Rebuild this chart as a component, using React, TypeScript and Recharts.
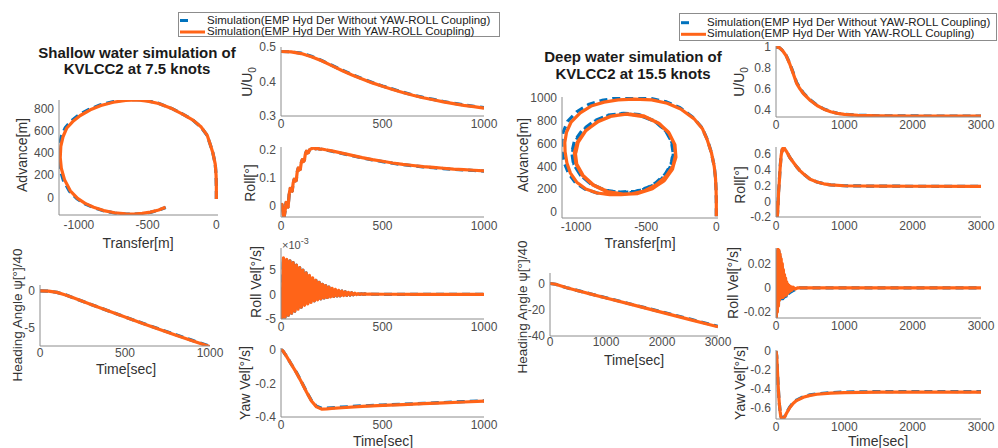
import React from 'react';
import { LineChart, Line, XAxis, YAxis } from 'recharts';

const BLUE = '#0072BD';
const ORANGE = '#FF6418';
const FONT = '"Liberation Sans", Arial, Helvetica, sans-serif';

type Pt = [number, number];

// ---------- Legend / titles ----------
const legendLabels = [
  'Simulation(EMP Hyd Der Without YAW-ROLL Coupling)',
  'Simulation(EMP Hyd Der With YAW-ROLL Coupling)',
];
const titleShallow = ['Shallow water simulation of', 'KVLCC2 at 7.5 knots'];
const titleDeep = ['Deep water simulation of', 'KVLCC2 at 15.5 knots'];

// ---------- Tick values ----------
const ticksTrajSX = [-1000, -500, 0];
const ticksTrajSY = [0, 200, 400, 600, 800];
const ticksTrajDX = [-1000, -500, 0];
const ticksTrajDY = [0, 200, 400, 600, 800, 1000];
const ticksTimeS = [0, 500, 1000];
const ticksTimeD = [0, 1000, 2000, 3000];
const ticksUS = [0.3, 0.4, 0.5];
const ticksRollS = [0, 0.1, 0.2];
const ticksRollVelS = [-5, 0, 5];
const ticksYawS = [-0.4, -0.2, 0];
const ticksHeadS = [-5, 0];
const ticksUD = [0.4, 0.6, 0.8, 1];
const ticksRollD = [-0.2, 0, 0.2, 0.4, 0.6];
const ticksRollVelD = [-0.02, 0, 0.02];
const ticksYawD = [-0.6, -0.4, -0.2, 0];
const ticksHeadD = [-40, -20, 0];

// ---------- Shallow water (7.5 kn) ----------
const trajShallowCoupled: Pt[] = [
  [0, -15], [0, 100], [-2, 200], [-8, 300], [-25, 400], [-45, 480], [-66, 560], [-110, 635], [-170, 698],
  [-236, 746], [-320, 800], [-420, 848], [-500, 870], [-577, 880], [-660, 877], [-750, 860], [-840, 830],
  [-917, 791], [-990, 740], [-1045, 685], [-1088, 627], [-1115, 550], [-1132, 460], [-1136, 358],
  [-1128, 260], [-1105, 160], [-1063, 59], [-1010, -10], [-955, -55], [-893, -90], [-820, -120],
  [-740, -140], [-660, -150], [-600, -151], [-540, -146], [-480, -134], [-420, -115], [-370, -90],
];
const trajShallowPlain: Pt[] = [
  [0, -15], [0, 100], [-2, 200], [-8, 300], [-25, 400], [-45, 480], [-67, 560], [-112, 636], [-172, 700],
  [-238, 748], [-322, 802], [-422, 851], [-502, 873], [-580, 884], [-664, 881], [-755, 864], [-848, 834],
  [-927, 795], [-1002, 744], [-1058, 688], [-1100, 628], [-1128, 550], [-1144, 460], [-1147, 358],
  [-1139, 258], [-1114, 157], [-1070, 57], [-1015, -12], [-958, -58], [-895, -92], [-822, -122],
  [-742, -142], [-662, -152], [-602, -153], [-540, -148], [-480, -136], [-420, -116], [-368, -92],
];
const uShallowCoupled: Pt[] = [
  [0, 0.487], [50, 0.486], [100, 0.481], [150, 0.472], [200, 0.46], [250, 0.446], [300, 0.432],
  [350, 0.419], [400, 0.407], [450, 0.396], [500, 0.386], [550, 0.377], [600, 0.368], [650, 0.36],
  [700, 0.353], [750, 0.347], [800, 0.341], [850, 0.336], [900, 0.331], [950, 0.327], [1000, 0.323],
];
const uShallowPlain: Pt[] = [
  [0, 0.487], [50, 0.486], [100, 0.482], [150, 0.473], [200, 0.461], [250, 0.447], [300, 0.433],
  [350, 0.42], [400, 0.408], [450, 0.397], [500, 0.387], [550, 0.378], [600, 0.369], [650, 0.361],
  [700, 0.354], [750, 0.348], [800, 0.342], [850, 0.337], [900, 0.332], [950, 0.328], [1000, 0.324],
];
const rollShallowCoupled: Pt[] = [
  [0, 0], [5, 0.005], [10, -0.03], [15, -0.042], [20, -0.02], [25, 0.012], [30, 0.005], [35, -0.005],
  [40, 0.04], [45, 0.062], [50, 0.055], [55, 0.052], [60, 0.082], [65, 0.095], [70, 0.088], [75, 0.09],
  [80, 0.122], [85, 0.135], [90, 0.128], [95, 0.13], [100, 0.155], [105, 0.165], [110, 0.158], [115, 0.162],
  [120, 0.185], [125, 0.195], [130, 0.188], [135, 0.19], [140, 0.2], [150, 0.204], [160, 0.207], [170, 0.203],
  [180, 0.206], [190, 0.202], [200, 0.203], [220, 0.2], [250, 0.196], [300, 0.188], [350, 0.18], [400, 0.172],
  [450, 0.165], [500, 0.159], [550, 0.153], [600, 0.148], [650, 0.144], [700, 0.14], [750, 0.137],
  [800, 0.134], [850, 0.131], [900, 0.129], [950, 0.127], [1000, 0.125],
];
const rollShallowPlain: Pt[] = [
  [0, 0], [5, 0.004], [10, -0.029], [15, -0.041], [20, -0.019], [25, 0.011], [30, 0.006], [35, -0.004],
  [40, 0.039], [45, 0.061], [50, 0.056], [55, 0.053], [60, 0.081], [65, 0.094], [70, 0.089], [75, 0.091],
  [80, 0.121], [85, 0.134], [90, 0.129], [95, 0.131], [100, 0.154], [105, 0.164], [110, 0.159], [115, 0.163],
  [120, 0.184], [125, 0.194], [130, 0.189], [135, 0.191], [140, 0.199], [150, 0.203], [160, 0.206], [170, 0.204],
  [180, 0.205], [190, 0.203], [200, 0.202], [220, 0.199], [250, 0.195], [300, 0.187], [350, 0.179], [400, 0.171],
  [450, 0.164], [500, 0.158], [550, 0.152], [600, 0.147], [650, 0.143], [700, 0.139], [750, 0.136],
  [800, 0.133], [850, 0.13], [900, 0.128], [950, 0.126], [1000, 0.124],
];
// roll velocity in units of 1e-3 deg/s
const rollVelShallow: Pt[] = [
  [0, 0], [4, -5.4], [12, 7.5], [20, -4.6], [28, 7.2], [36, -4.2], [44, 6.9], [52, -3.8], [60, 6.5],
  [68, -3.4], [76, 6.0], [84, -3.0], [92, 5.5], [100, -2.6], [108, 5.0], [116, -2.2], [124, 4.4],
  [132, -1.9], [140, 3.9], [148, -1.6], [156, 3.4], [164, -1.3], [172, 2.9], [180, -1.1], [188, 2.5],
  [196, -0.9], [204, 2.1], [212, -0.7], [220, 1.8], [228, -0.6], [236, 1.5], [244, -0.5], [252, 1.25],
  [260, -0.4], [268, 1.05], [276, -0.3], [284, 0.85], [292, -0.25], [300, 0.7], [308, -0.2], [316, 0.55],
  [324, -0.15], [332, 0.45], [340, -0.1], [348, 0.35], [356, -0.05], [364, 0.28], [372, 0], [380, 0.2],
  [388, 0.02], [396, 0.15], [404, 0.04], [412, 0.12], [430, 0.06], [500, 0.05], [700, 0.03], [1000, 0.02],
];
const yawShallowCoupled: Pt[] = [
  [0, 0], [10, -0.008], [25, -0.035], [50, -0.085], [75, -0.135], [100, -0.19], [125, -0.25], [150, -0.305],
  [175, -0.34], [200, -0.353], [225, -0.352], [250, -0.349], [300, -0.345], [400, -0.337], [500, -0.331],
  [600, -0.326], [700, -0.321], [800, -0.316], [900, -0.311], [1000, -0.306],
];
const yawShallowPlain: Pt[] = [
  [0, 0], [10, -0.008], [25, -0.035], [50, -0.085], [75, -0.133], [100, -0.188], [125, -0.248], [150, -0.302],
  [175, -0.336], [200, -0.348], [225, -0.347], [250, -0.345], [300, -0.341], [400, -0.334], [500, -0.329],
  [600, -0.324], [700, -0.319], [800, -0.314], [900, -0.309], [1000, -0.304],
];
const headShallowCoupled: Pt[] = [
  [0, 0], [50, -0.03], [100, -0.2], [150, -0.55], [200, -0.98], [250, -1.42], [300, -1.86], [400, -2.72],
  [500, -3.57], [600, -4.4], [700, -5.22], [800, -6.03], [900, -6.82], [1000, -7.6],
];
const headShallowPlain: Pt[] = [
  [0, 0], [50, -0.03], [100, -0.2], [150, -0.54], [200, -0.97], [250, -1.41], [300, -1.84], [400, -2.7],
  [500, -3.54], [600, -4.37], [700, -5.18], [800, -5.98], [900, -6.77], [1000, -7.55],
];

// ---------- Deep water (15.5 kn) ----------
const trajDeepCoupled: Pt[] = [
  [0, -40], [0, 100], [-2, 200], [-6, 300], [-15, 400], [-35, 520], [-64, 630], [-100, 733], [-160, 820],
  [-254, 905], [-350, 955], [-460, 985], [-586, 992], [-700, 985], [-800, 965], [-893, 930], [-970, 870],
  [-1035, 790], [-1068, 700], [-1080, 610], [-1078, 528], [-1065, 430], [-1040, 340], [-995, 260],
  [-930, 200], [-850, 165], [-760, 150], [-680, 150], [-600, 158], [-510, 185], [-430, 235], [-360, 310],
  [-310, 400], [-290, 500], [-300, 600], [-340, 700], [-410, 780], [-520, 845], [-633, 862], [-740, 845],
  [-840, 795], [-930, 715], [-990, 615], [-1012, 520], [-1000, 420], [-955, 320], [-880, 235], [-780, 175],
  [-670, 152], [-560, 160], [-460, 200], [-375, 270], [-315, 370], [-288, 480], [-295, 590], [-335, 690],
  [-405, 775], [-510, 835], [-640, 858], [-750, 842], [-845, 795], [-930, 715], [-985, 615], [-1005, 520],
  [-995, 420], [-950, 320], [-875, 235], [-775, 178], [-665, 155], [-555, 163], [-455, 203], [-370, 275],
  [-312, 375], [-290, 485], [-298, 595], [-340, 695], [-410, 778], [-515, 838], [-645, 858], [-755, 840],
  [-850, 790], [-932, 710], [-985, 610], [-1002, 515],
];
const trajDeepPlain: Pt[] = [
  [0, -40], [0, 100], [-2, 200], [-6, 300], [-15, 400], [-35, 520], [-64, 635], [-102, 740], [-165, 830],
  [-258, 915], [-355, 967], [-465, 997], [-592, 1008], [-710, 1002], [-815, 980], [-912, 943], [-995, 880],
  [-1060, 795], [-1092, 700], [-1102, 610], [-1098, 520], [-1082, 425], [-1052, 335], [-1003, 255],
  [-935, 198], [-850, 165], [-760, 160], [-680, 162], [-600, 170], [-510, 200], [-430, 255], [-365, 330],
  [-322, 420], [-308, 520], [-320, 620], [-365, 720], [-440, 800], [-550, 855], [-660, 867], [-770, 850],
  [-870, 800], [-955, 720], [-1012, 620], [-1030, 520], [-1018, 420], [-970, 325], [-895, 245], [-795, 190],
  [-685, 172], [-575, 180], [-475, 220], [-390, 290], [-330, 390], [-306, 500], [-315, 610], [-360, 710],
  [-430, 790], [-540, 848], [-660, 864], [-770, 847], [-868, 797], [-952, 717], [-1008, 617], [-1027, 517],
  [-1015, 417], [-968, 322], [-892, 242], [-792, 188], [-682, 170], [-572, 178], [-472, 218], [-388, 290],
  [-330, 390], [-307, 500], [-316, 610], [-360, 710], [-432, 790], [-542, 848], [-662, 864],
];
const uDeepCoupled: Pt[] = [
  [0, 1.0], [25, 0.999], [50, 0.993], [75, 0.98], [100, 0.962], [150, 0.915], [200, 0.84], [250, 0.75],
  [300, 0.655], [350, 0.6], [400, 0.555], [500, 0.49], [600, 0.44], [700, 0.405], [800, 0.38], [900, 0.365],
  [1000, 0.355], [1200, 0.346], [1500, 0.341], [2000, 0.339], [2500, 0.338], [3000, 0.338],
];
const uDeepPlain: Pt[] = [
  [0, 1.0], [25, 0.999], [50, 0.993], [75, 0.98], [100, 0.963], [150, 0.918], [200, 0.845], [250, 0.757],
  [300, 0.663], [350, 0.607], [400, 0.56], [500, 0.494], [600, 0.443], [700, 0.407], [800, 0.382], [900, 0.366],
  [1000, 0.356], [1200, 0.347], [1500, 0.342], [2000, 0.34], [2500, 0.339], [3000, 0.339],
];
const rollDeepCoupled: Pt[] = [
  [0, 0], [8, -0.08], [15, -0.2], [22, -0.17], [30, -0.05], [38, 0.12], [45, 0.2], [52, 0.3], [60, 0.42],
  [68, 0.5], [75, 0.58], [82, 0.62], [90, 0.66], [98, 0.64], [105, 0.68], [112, 0.66], [120, 0.68],
  [130, 0.66], [150, 0.64], [175, 0.6], [200, 0.56], [250, 0.5], [300, 0.44], [350, 0.39], [400, 0.35],
  [500, 0.28], [600, 0.245], [700, 0.222], [800, 0.208], [1000, 0.197], [1500, 0.192], [2000, 0.191],
  [3000, 0.19],
];
const rollDeepPlain: Pt[] = [
  [0, 0], [8, -0.07], [15, -0.19], [22, -0.16], [30, -0.04], [38, 0.13], [45, 0.21], [52, 0.31], [60, 0.43],
  [68, 0.51], [75, 0.58], [82, 0.62], [90, 0.65], [98, 0.65], [105, 0.67], [112, 0.67], [120, 0.67],
  [130, 0.66], [150, 0.64], [175, 0.6], [200, 0.56], [250, 0.5], [300, 0.44], [350, 0.39], [400, 0.35],
  [500, 0.28], [600, 0.245], [700, 0.222], [800, 0.208], [1000, 0.197], [1500, 0.192], [2000, 0.191],
  [3000, 0.19],
];
const rollVelDeepCoupled: Pt[] = [
  [0, 0], [5, -0.025], [12, 0.03], [20, -0.02], [28, 0.032], [36, -0.015], [44, 0.031], [52, -0.01],
  [60, 0.028], [68, -0.008], [76, 0.024], [84, -0.008], [92, 0.02], [100, -0.008], [108, 0.015],
  [116, -0.007], [124, 0.011], [132, -0.006], [140, 0.008], [148, -0.006], [156, 0.005], [164, -0.005],
  [172, 0.003], [180, -0.004], [190, 0.002], [200, -0.003], [215, 0.001], [230, -0.002], [250, 0.0005],
  [280, -0.001], [320, 0], [400, 0], [3000, 0],
];
const rollVelDeepPlain: Pt[] = [
  [0, 0], [5, -0.024], [12, 0.029], [20, -0.019], [28, 0.031], [36, -0.014], [44, 0.03], [52, -0.01],
  [60, 0.027], [68, -0.009], [76, 0.022], [84, -0.009], [92, 0.017], [100, -0.009], [108, 0.012],
  [116, -0.008], [124, 0.008], [132, -0.007], [140, 0.005], [148, -0.007], [160, 0.002], [175, -0.005],
  [200, -0.004], [230, -0.003], [260, -0.002], [300, -0.001], [350, 0], [3000, 0],
];
const yawDeepCoupled: Pt[] = [
  [0, 0], [10, -0.05], [20, -0.2], [30, -0.35], [40, -0.47], [50, -0.57], [60, -0.64], [70, -0.69],
  [80, -0.712], [90, -0.72], [100, -0.72], [110, -0.715], [130, -0.695], [150, -0.665], [200, -0.6],
  [250, -0.555], [300, -0.525], [400, -0.49], [500, -0.47], [600, -0.458], [800, -0.446], [1000, -0.44],
  [1500, -0.436], [2000, -0.435], [2500, -0.435], [3000, -0.436],
];
const yawDeepPlain: Pt[] = [
  [0, 0], [10, -0.05], [20, -0.2], [30, -0.35], [40, -0.468], [50, -0.566], [60, -0.636], [70, -0.685],
  [80, -0.706], [90, -0.714], [100, -0.714], [110, -0.709], [130, -0.69], [150, -0.66], [200, -0.595],
  [250, -0.55], [300, -0.52], [400, -0.485], [500, -0.465], [600, -0.453], [800, -0.441], [1000, -0.435],
  [1500, -0.43], [2000, -0.429], [2500, -0.429], [3000, -0.43],
];
const headDeepCoupled: Pt[] = [
  [0, 0], [100, -0.6], [200, -1.9], [300, -3.2], [500, -5.5], [750, -8.3], [1000, -11], [1500, -16.5],
  [2000, -22], [2500, -27.5], [3000, -33],
];
const headDeepPlain: Pt[] = [
  [0, 0], [100, -0.6], [200, -1.9], [300, -3.2], [500, -5.45], [750, -8.2], [1000, -10.9], [1500, -16.3],
  [2000, -21.7], [2500, -27.1], [3000, -32.6],
];

// ---------- helpers ----------
const rows = (pts: Pt[]) => pts.map(([x, y]) => ({ x, y }));

type PanelProps = {
  left: number; top: number; w: number; h: number;
  xDomain: [number, number]; yDomain: [number, number];
  xTicks: number[]; yTicks: number[];
  plain: Pt[]; coupled: Pt[];
  xTickMargin?: number;
};

function Panel({ left, top, w, h, xDomain, yDomain, xTicks, yTicks, plain, coupled, xTickMargin = 3 }: PanelProps) {
  const YW = 46, T = 6, R = 18, XH = 18;
  const tickStyle = { fill: '#4d4d4d', fontSize: 12, fontFamily: FONT };
  return (
    <div style={{ position: 'absolute', left: left - YW, top: top - T }}>
      <LineChart width={YW + w + R} height={T + h + XH} margin={{ top: T, right: R, bottom: 0, left: 0 }}>
        <XAxis
          type="number" dataKey="x" domain={xDomain} ticks={xTicks} allowDataOverflow interval={0}
          height={XH} tickLine={false} tickSize={0} tickMargin={xTickMargin}
          axisLine={{ stroke: '#8c8c8c', strokeWidth: 1 }} tick={tickStyle}
        />
        <YAxis
          type="number" domain={yDomain} ticks={yTicks} allowDataOverflow interval={0}
          width={YW} tickLine={false} tickSize={0} tickMargin={5}
          axisLine={{ stroke: '#8c8c8c', strokeWidth: 1 }} tick={tickStyle}
        />
        <Line
          data={rows(plain)} dataKey="y" stroke={BLUE} strokeWidth={3.2} strokeDasharray="8 5" strokeLinejoin="round"
          dot={false} activeDot={false} isAnimationActive={false} type="linear"
        />
        <Line
          data={rows(coupled)} dataKey="y" stroke={ORANGE} strokeWidth={3.2} strokeLinejoin="round"
          dot={false} activeDot={false} isAnimationActive={false} type="linear"
        />
      </LineChart>
    </div>
  );
}

const baseText: React.CSSProperties = {
  position: 'absolute', whiteSpace: 'nowrap', fontFamily: FONT, lineHeight: 1, color: '#333',
};

function VLabel({ cx, cy, children, size = 14 }: { cx: number; cy: number; children: React.ReactNode; size?: number }) {
  return (
    <div style={{ ...baseText, left: cx, top: cy, fontSize: size, transform: 'translate(-50%, -50%) rotate(-90deg)' }}>
      {children}
    </div>
  );
}

function HLabel({ cx, cy, children, size = 14, bold = false, color = '#333' }: { cx: number; cy: number; children: React.ReactNode; size?: number; bold?: boolean; color?: string }) {
  return (
    <div style={{ ...baseText, left: cx, top: cy, fontSize: size, fontWeight: bold ? 700 : 400, color, transform: 'translate(-50%, -50%)' }}>
      {children}
    </div>
  );
}

function LegendBox({ left, top, width, height, row1, row2, textLeft }: { left: number; top: number; width: number; height: number; row1: number; row2: number; textLeft: number }) {
  return (
    <div style={{ position: 'absolute', left, top, width, height, border: '1px solid #8c8c8c', background: '#fff', boxSizing: 'border-box' }}>
      <svg width={width} height={height} style={{ position: 'absolute', left: -1, top: -1 }}>
        <line x1={2} x2={27} y1={row1} y2={row1} stroke={BLUE} strokeWidth={3} strokeDasharray="8 20" />
        <line x1={2} x2={27} y1={row2} y2={row2} stroke={ORANGE} strokeWidth={3} />
      </svg>
      <div style={{ ...baseText, left: textLeft - 1, top: row1 - 1, fontSize: 11.5, color: '#222', transform: 'translateY(-50%)' }}>{legendLabels[0]}</div>
      <div style={{ ...baseText, left: textLeft - 1, top: row2 - 1, fontSize: 11.5, color: '#222', transform: 'translateY(-50%)' }}>{legendLabels[1]}</div>
    </div>
  );
}

const U0 = (<span>U/U<sub style={{ fontSize: 10 }}>0</sub></span>);

export default function App() {
  return (
    <div style={{ position: 'absolute', left: 0, top: 0, width: 998, height: 448, background: '#fff', overflow: 'hidden', fontFamily: FONT }}>
      {/* ---------- Shallow water ---------- */}
      <LegendBox left={178} top={12} width={322} height={25} row1={8.5} row2={20} textLeft={29} />
      <HLabel cx={137} cy={52} size={15} bold color="#1a1a1a">{titleShallow[0]}</HLabel>
      <HLabel cx={137} cy={68} size={15} bold color="#1a1a1a">{titleShallow[1]}</HLabel>

      <Panel left={59} top={100} w={159} h={115} xDomain={[-1145, 12]} yDomain={[-160, 880]}
        xTicks={ticksTrajSX} yTicks={ticksTrajSY} plain={trajShallowPlain} coupled={trajShallowCoupled} xTickMargin={5} />
      <VLabel cx={22} cy={155}>Advance[m]</VLabel>
      <HLabel cx={138} cy={243}>Transfer[m]</HLabel>

      <Panel left={40} top={285} w={170} h={61} xDomain={[0, 1000]} yDomain={[-7.5, 0.8]}
        xTicks={ticksTimeS} yTicks={ticksHeadS} plain={headShallowPlain} coupled={headShallowCoupled} xTickMargin={2} />
      <VLabel cx={18} cy={315} size={13.5}>Heading Angle ψ[°]/40</VLabel>
      <HLabel cx={126} cy={369}>Time[sec]</HLabel>

      <Panel left={281} top={47} w={203} h={69} xDomain={[0, 1000]} yDomain={[0.3, 0.5]}
        xTicks={ticksTimeS} yTicks={ticksUS} plain={uShallowPlain} coupled={uShallowCoupled} />
      <VLabel cx={249} cy={82}>{U0}</VLabel>

      <Panel left={281} top={147} w={203} h={70} xDomain={[0, 1000]} yDomain={[-0.04, 0.21]}
        xTicks={ticksTimeS} yTicks={ticksRollS} plain={rollShallowPlain} coupled={rollShallowCoupled} xTickMargin={4} />
      <VLabel cx={250} cy={183}>Roll[°]</VLabel>

      <Panel left={281} top={248} w={203} h={71} xDomain={[0, 1000]} yDomain={[-5, 9.5]}
        xTicks={ticksTimeS} yTicks={ticksRollVelS} plain={rollVelShallow} coupled={rollVelShallow} />
      <VLabel cx={256} cy={282}>Roll Vel[°/s]</VLabel>
      <div style={{ ...baseText, left: 282, top: 237, fontSize: 11, color: '#4d4d4d' }}>×10<sup style={{ fontSize: 9 }}>-3</sup></div>

      <Panel left={281} top={348} w={203} h={69} xDomain={[0, 1000]} yDomain={[-0.4, 0.01]}
        xTicks={ticksTimeS} yTicks={ticksYawS} plain={yawShallowPlain} coupled={yawShallowCoupled} />
      <VLabel cx={245} cy={383}>Yaw Vel[°/s]</VLabel>
      <HLabel cx={383} cy={441}>Time[sec]</HLabel>

      {/* ---------- Deep water ---------- */}
      <LegendBox left={679} top={13} width={318} height={28} row1={9.7} row2={21.3} textLeft={28} />
      <HLabel cx={633} cy={56} size={15} bold color="#1a1a1a">{titleDeep[0]}</HLabel>
      <HLabel cx={633} cy={72.5} size={15} bold color="#1a1a1a">{titleDeep[1]}</HLabel>

      <Panel left={562} top={97} w={156} h={121} xDomain={[-1100, 12]} yDomain={[-55, 1010]}
        xTicks={ticksTrajDX} yTicks={ticksTrajDY} plain={trajDeepPlain} coupled={trajDeepCoupled} xTickMargin={4} />
      <VLabel cx={523} cy={155}>Advance[m]</VLabel>
      <HLabel cx={640} cy={243}>Transfer[m]</HLabel>

      <Panel left={550} top={273} w={168} h={63} xDomain={[0, 3000]} yDomain={[-40, 8]}
        xTicks={ticksTimeD} yTicks={ticksHeadD} plain={headDeepPlain} coupled={headDeepCoupled} xTickMargin={1} />
      <VLabel cx={523} cy={307} size={13.5}>Heading Angle ψ[°]/40</VLabel>
      <HLabel cx={634} cy={360}>Time[sec]</HLabel>

      <Panel left={776} top={46} w={205} h={71} xDomain={[0, 3000]} yDomain={[0.33, 1.01]}
        xTicks={ticksTimeD} yTicks={ticksUD} plain={uDeepPlain} coupled={uDeepCoupled} />
      <VLabel cx={741} cy={82}>{U0}</VLabel>

      <Panel left={776} top={147} w={205} h={70} xDomain={[0, 3000]} yDomain={[-0.2, 0.69]}
        xTicks={ticksTimeD} yTicks={ticksRollD} plain={rollDeepPlain} coupled={rollDeepCoupled} xTickMargin={4} />
      <VLabel cx={740} cy={185}>Roll[°]</VLabel>

      <Panel left={776} top={248} w={205} h={70} xDomain={[0, 3000]} yDomain={[-0.025, 0.033]}
        xTicks={ticksTimeD} yTicks={ticksRollVelD} plain={rollVelDeepPlain} coupled={rollVelDeepCoupled} />
      <VLabel cx={733} cy={283}>Roll Vel[°/s]</VLabel>

      <Panel left={776} top={350} w={205} h={69} xDomain={[0, 3000]} yDomain={[-0.72, 0.01]}
        xTicks={ticksTimeD} yTicks={ticksYawD} plain={yawDeepPlain} coupled={yawDeepCoupled} />
      <VLabel cx={740} cy={383}>Yaw Vel[°/s]</VLabel>
      <HLabel cx={878} cy={441}>Time[sec]</HLabel>
    </div>
  );
}
